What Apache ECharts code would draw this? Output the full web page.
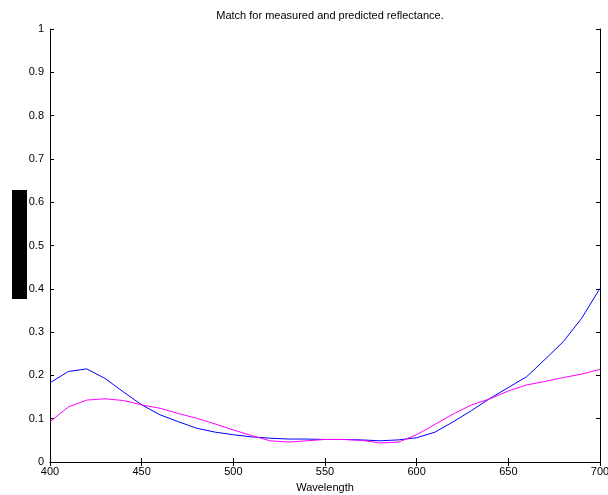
<!DOCTYPE html>
<html>
<head>
<meta charset="utf-8">
<script src="https://cdn.jsdelivr.net/npm/echarts@6/dist/echarts.min.js"></script>
<style>
    html, body { margin: 0; padding: 0; background: #fff; }
    #chart { width: 608px; height: 495px; }
</style>
</head>
<body>
<div id="chart"></div>
<script>
// wavelengths, every 10 nm
var wavelengths = [400, 410, 420, 430, 440, 450, 460, 470, 480, 490,
    500, 510, 520, 530, 540, 550, 560, 570, 580, 590,
    600, 610, 620, 630, 640, 650, 660, 670, 680, 690, 700];
// measured reflectance (blue)
var measured = [0.183, 0.209, 0.215, 0.193, 0.162, 0.132, 0.109, 0.093, 0.078, 0.069,
    0.063, 0.058, 0.055, 0.053, 0.053, 0.052, 0.052, 0.051, 0.049, 0.051,
    0.056, 0.069, 0.093, 0.119, 0.147, 0.172, 0.197, 0.237, 0.278, 0.332, 0.401];
// predicted reflectance (magenta)
var predicted = [0.093, 0.127, 0.143, 0.146, 0.142, 0.132, 0.124, 0.112, 0.101, 0.088,
    0.074, 0.061, 0.049, 0.046, 0.049, 0.052, 0.052, 0.050, 0.044, 0.046,
    0.063, 0.087, 0.111, 0.132, 0.146, 0.164, 0.178, 0.186, 0.195, 0.203, 0.214];
var xTicks = [400, 450, 500, 550, 600, 650, 700];
var yTicks = [0, 0.1, 0.2, 0.3, 0.4, 0.5, 0.6, 0.7, 0.8, 0.9, 1];

function pairs(ys) {
    var out = [];
    for (var i = 0; i < wavelengths.length; i++) {
        out.push([wavelengths[i], ys[i]]);
    }
    return out;
}

var chart = echarts.init(document.getElementById('chart'), null, {renderer: 'canvas'});
var fontFamily = 'Liberation Sans, Arial, sans-serif';
var axisLine = {show: true, lineStyle: {color: '#000', width: 1}};
var tickIn = {show: true, inside: true, length: 4, lineStyle: {color: '#000'}};

var option = {
    backgroundColor: '#fff',
    animation: false,
    title: {
        text: 'Match for measured and predicted reflectance.',
        left: 325,
        top: 5,
        textAlign: 'center',
        textStyle: {fontFamily: fontFamily, fontSize: 11, fontWeight: 'normal', color: '#000'}
    },
    grid: {left: 50, right: 8, top: 29, bottom: 33, containLabel: false, outerBoundsMode: 'none'},
    xAxis: [
        {
            type: 'value', min: xTicks[0], max: xTicks[xTicks.length - 1], interval: 50,
            position: 'bottom',
            name: 'Wavelength', nameLocation: 'middle', nameGap: 20,
            nameTextStyle: {fontFamily: fontFamily, fontSize: 11, color: '#000'},
            axisLine: axisLine, axisTick: tickIn,
            axisLabel: {fontFamily: fontFamily, fontSize: 11, color: '#000', margin: 4},
            splitLine: {show: false}
        },
        {
            type: 'value', min: xTicks[0], max: xTicks[xTicks.length - 1], interval: 50,
            position: 'top',
            axisLine: axisLine, axisTick: tickIn,
            axisLabel: {show: false},
            splitLine: {show: false}
        }
    ],
    yAxis: [
        {
            type: 'value', min: yTicks[0], max: yTicks[yTicks.length - 1], interval: 0.1,
            position: 'left',
            axisLine: axisLine, axisTick: tickIn,
            axisLabel: {fontFamily: fontFamily, fontSize: 11, color: '#000', margin: 6},
            splitLine: {show: false}
        },
        {
            type: 'value', min: yTicks[0], max: yTicks[yTicks.length - 1], interval: 0.1,
            position: 'right',
            axisLine: axisLine, axisTick: tickIn,
            axisLabel: {show: false},
            splitLine: {show: false}
        }
    ],
    series: [
        {
            name: 'measured', type: 'line', data: pairs(measured),
            showSymbol: false, symbol: 'none',
            lineStyle: {color: '#0000ff', width: 1},
            itemStyle: {color: '#0000ff'}
        },
        {
            name: 'predicted', type: 'line', data: pairs(predicted),
            showSymbol: false, symbol: 'none',
            lineStyle: {color: '#ff00ff', width: 1},
            itemStyle: {color: '#ff00ff'}
        }
    ],
    graphic: [
        {
            type: 'rect',
            shape: {x: 12, y: 190, width: 15, height: 109},
            style: {fill: '#000'}
        }
    ]
};
chart.setOption(option);
</script>
</body>
</html>
